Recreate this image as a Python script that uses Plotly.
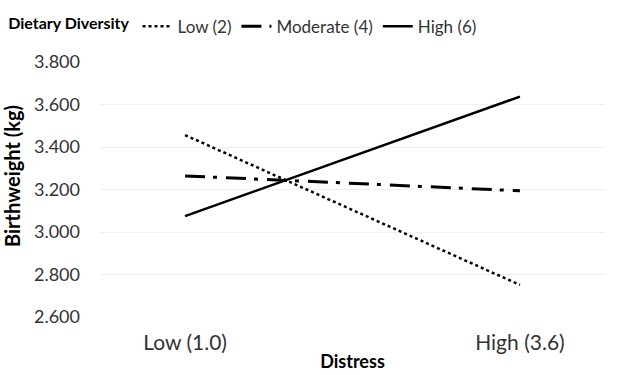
import plotly.graph_objects as go

distress = ["Low (1.0)", "High (3.6)"]
series_names = ["Low (2)", "Moderate (4)", "High (6)"]
low_vals = [3.456, 2.751]
mod_vals = [3.264, 3.194]
high_vals = [3.075, 3.637]
y_ticks = [2.6, 2.8, 3.0, 3.2, 3.4, 3.6, 3.8]

FONT = "Lato"
fig = go.Figure()
styles = [("dot", 2.5), ("20px,8px,4px,9px", 3), ("solid", 2.5)]
for name, vals, (dash, w) in zip(series_names, [low_vals, mod_vals, high_vals], styles):
    fig.add_trace(go.Scatter(x=distress, y=vals, mode="lines", name=name,
                             line=dict(color="black", width=w, dash=dash)))

fig.add_annotation(text="<b>Birthweight (kg)</b>", textangle=-90, xref="paper", yref="paper",
                   x=-88/505, y=(317-176)/255, xanchor="center", yanchor="middle",
                   showarrow=False, font=dict(size=20, color="black"))

fig.update_layout(
    width=617, height=375,
    margin=dict(l=100, r=12, t=62, b=58, autoexpand=False),
    paper_bgcolor="white", plot_bgcolor="white",
    font=dict(family=FONT, size=19, color="#333"),
    showlegend=True,
    legend=dict(orientation="h", x=0.01, xref="container", y=0.977, yref="container",
                xanchor="left", yanchor="top",
                title=dict(text="<b>Dietary Diversity</b>", font=dict(size=16, color="black")),
                font=dict(size=17, color="#333")),
    xaxis=dict(type="category", range=[-0.254, 1.254], showgrid=False, zeroline=False,
               showline=False, ticks="", ticklabelstandoff=11,
               tickfont=dict(size=21),
               title=dict(text="<b>Distress</b>", font=dict(size=18, color="black"), standoff=2)),
    yaxis=dict(range=[2.6, 3.8], tickvals=y_ticks, tickformat=".3f",
               showgrid=True, gridcolor="#eeeeee", gridwidth=1, zeroline=False,
               showline=False, ticks="", ticklabelstandoff=19,
               tickfont=dict(size=18)),
)
fig.write_html("out.html")
